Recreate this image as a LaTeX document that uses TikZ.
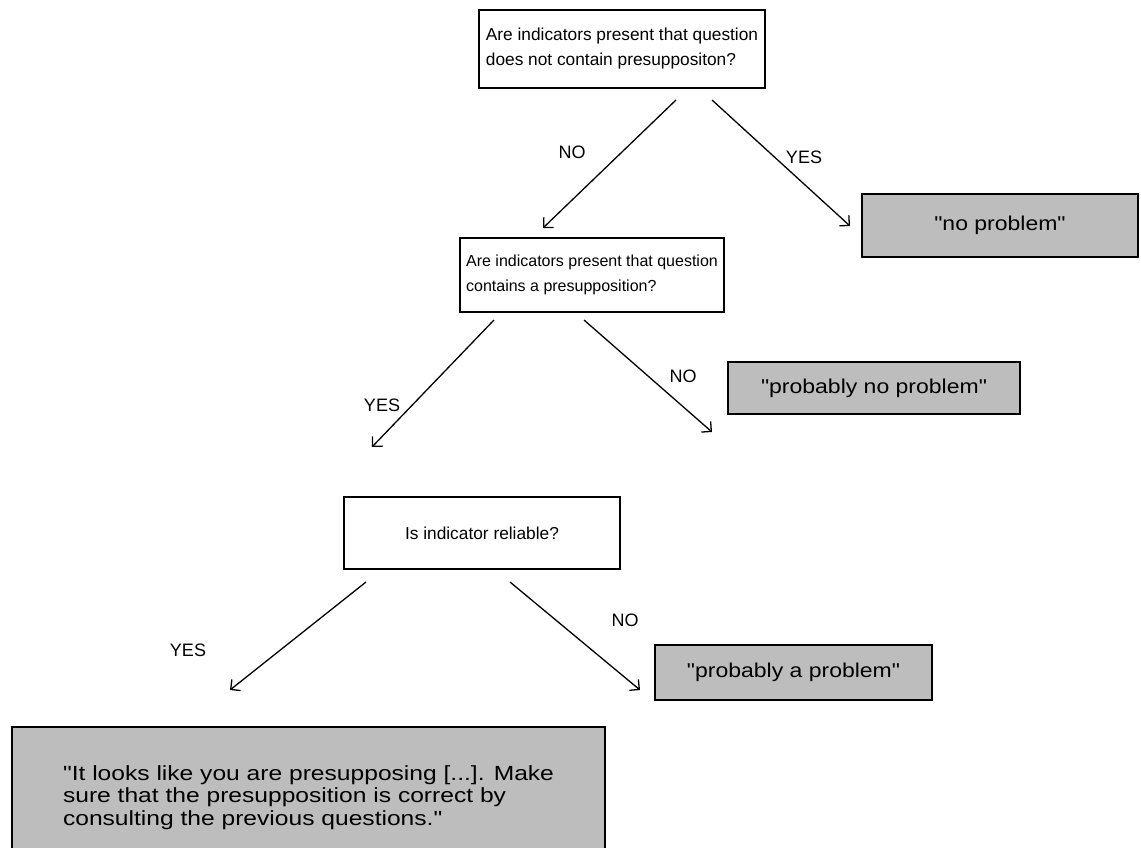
\documentclass[tikz,border=0pt]{standalone}
\usepackage{fontspec}
\setmainfont{Liberation Sans}
\newfontfamily\ansfont[FakeStretch=1.15]{Liberation Sans}
\newfontfamily\longfont[FakeStretch=1.2]{Liberation Sans}
\usetikzlibrary{arrows.meta}
\begin{document}
\begin{tikzpicture}[x=1pt,y=-1pt,
 qbox/.style={draw,line width=1.6pt,fill=white,align=left,font=\fontsize{17.3}{25}\selectfont,inner sep=0pt},
 abox/.style={draw,line width=1.6pt,fill=black!26,font=\ansfont\fontsize{20}{22.5}\selectfont,inner sep=0pt,align=left},
 arr/.style={line width=1.3pt,-{Straight Barb[angle=90:10pt,line width=1.3pt]}},
 lbl/.style={font=\fontsize{18}{20}\selectfont,inner sep=0pt}]
\useasboundingbox (0,0) rectangle (1141,848);
\clip (0,0) rectangle (1141,848);
% question boxes
\node[qbox,minimum width=286pt,minimum height=78pt] (q1) at (622,49) {Are indicators present that question\\does not contain presuppositon?};
\node[qbox,minimum width=264pt,minimum height=74pt,font=\fontsize{16}{25}\selectfont] (q2) at (592,275) {Are indicators present that question\\contains a presupposition?};
\node[qbox,minimum width=276pt,minimum height=72pt] (q3) at (482,533) {Is indicator reliable?};
% answer boxes
\node[abox,minimum width=276pt,minimum height=63pt] (r1) at (1000,225.5) {\char34 no problem\char34};
\node[abox,minimum width=292pt,minimum height=52pt] (r2) at (874,388) {\char34 probably no problem\char34};
\node[abox,minimum width=277pt,minimum height=55pt] (r3) at (793.5,672.5) {\char34 probably a problem\char34};
\node[abox,minimum width=593pt,minimum height=141pt,font=\longfont\fontsize{20.5}{22.5}\selectfont] (r4) at (308.5,797.5) {\char34 It looks like you are presupposing [...]. Make\\sure that the presupposition is correct by\\consulting the previous questions.\char34};
% connector end points
\coordinate (a1s) at (676,100); \coordinate (a1e) at (543,228);
\coordinate (a2s) at (712,100); \coordinate (a2e) at (850,226);
\coordinate (a3s) at (494,320); \coordinate (a3e) at (372,447);
\coordinate (a4s) at (584,320); \coordinate (a4e) at (712,432);
\coordinate (a5s) at (366,582); \coordinate (a5e) at (230,690);
\coordinate (a6s) at (510,582); \coordinate (a6e) at (640,690);
\draw[arr] (a1s) -- (a1e);
\draw[arr] (a2s) -- (a2e);
\draw[arr] (a3s) -- (a3e);
\draw[arr] (a4s) -- (a4e);
\draw[arr] (a5s) -- (a5e);
\draw[arr] (a6s) -- (a6e);
% labels
\node[lbl] (l1) at (572,152) {NO};
\node[lbl] (l2) at (804,157) {YES};
\node[lbl] (l3) at (382,405) {YES};
\node[lbl] (l4) at (683,376) {NO};
\node[lbl] (l5) at (188,650) {YES};
\node[lbl] (l6) at (625,620) {NO};
\end{tikzpicture}
\end{document}
